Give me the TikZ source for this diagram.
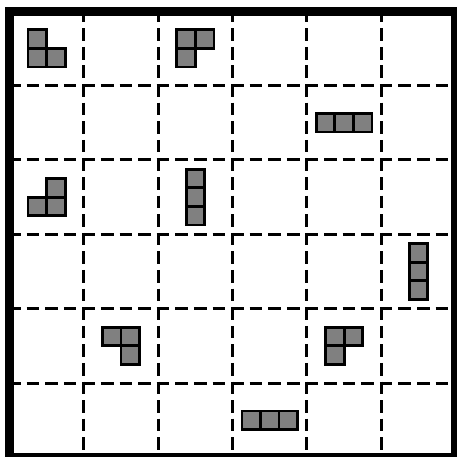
\documentclass[tikz,border=0pt]{standalone}
\begin{document}
\begin{tikzpicture}[x=0.5cm,y=0.5cm,
  gridline/.style={line width=0.081cm, dash pattern=on 0.34cm off 0.16cm},
  frame/.style={line width=0.242cm},
  tile/.style={fill={rgb,255:red,128;green,128;blue,128}, draw=black, line width=0.075cm}]
\useasboundingbox (-0.511,0.022) rectangle (24.07,24.602);
\fill[white] (-0.511,0.022) rectangle (24.07,24.602);
% dashed grid
\foreach \k in {4,8,12,16,20} {
  \draw[gridline] (\k,24.08) -- (\k,0);
  \draw[gridline] (-0.08,\k) -- (24,\k);
}
% outer frame
\draw[frame] (0,0) rectangle (24,24);
% tiles
\foreach \p in {(1,22),(1,21),(2,21),
                (9,22),(10,22),(9,21),
                (16.5,17.5),(17.5,17.5),(18.5,17.5),
                (2,14),(1,13),(2,13),
                (9.5,12.5),(9.5,13.5),(9.5,14.5),
                (21.5,8.5),(21.5,9.5),(21.5,10.5),
                (5,6),(6,6),(6,5),
                (17,6),(18,6),(17,5),
                (12.5,1.5),(13.5,1.5),(14.5,1.5)} {
  \draw[tile] \p rectangle ++(1,1);
}
\end{tikzpicture}
\end{document}
